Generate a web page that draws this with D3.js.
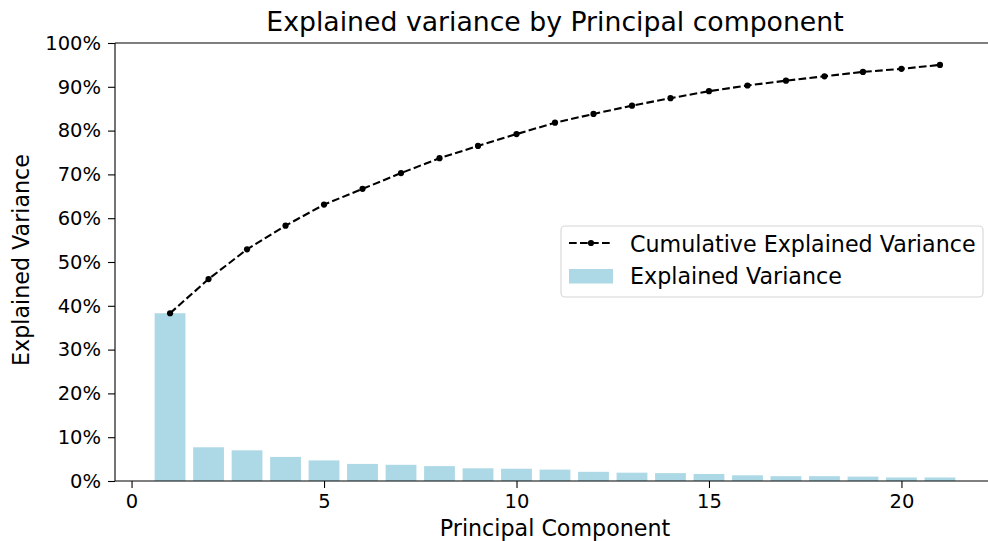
<!DOCTYPE html>
<html>
<head>
<meta charset="utf-8">
<script src="https://cdn.jsdelivr.net/npm/d3@7"></script>
<style>
  html, body { margin: 0; padding: 0; background: #fff; }
  svg { display: block; font-family: "DejaVu Sans", sans-serif; }
</style>
</head>
<body>
<svg id="chart" width="988" height="541"></svg>
<script>
// Principal components and their share of variance
const components = [1, 2, 3, 4, 5, 6, 7, 8, 9, 10, 11, 12, 13, 14, 15, 16, 17, 18, 19, 20, 21];
const explained = [0.383, 0.077, 0.070, 0.055, 0.047, 0.039, 0.037, 0.034, 0.029, 0.028, 0.026,
                   0.021, 0.019, 0.018, 0.016, 0.013, 0.011, 0.011, 0.010, 0.008, 0.008];
const cumulative = [0.383, 0.461, 0.529, 0.583, 0.631, 0.667, 0.703, 0.737, 0.765, 0.792, 0.818,
                    0.838, 0.857, 0.874, 0.890, 0.903, 0.914, 0.924, 0.934, 0.941, 0.950];
const xTicks = [0, 5, 10, 15, 20];
const yTicks = [0, 0.1, 0.2, 0.3, 0.4, 0.5, 0.6, 0.7, 0.8, 0.9, 1.0];

const svg = d3.select("#chart");
const plot = { left: 115, right: 995, top: 43, bottom: 481 };
const tickFs = 19.5;   // tick labels
const labelFs = 22.2;  // axis labels and legend
const titleFs = 26.7;

const x = d3.scaleLinear().domain([-0.43, 22.43]).range([plot.left, plot.right]);
const y = d3.scaleLinear().domain([0, 1]).range([plot.bottom, plot.top]);
const barW = x(0.8) - x(0);

// bars
svg.append("g").selectAll("rect")
  .data(components)
  .join("rect")
  .attr("x", (d) => x(d - 0.4))
  .attr("y", (d, i) => y(explained[i]))
  .attr("width", barW)
  .attr("height", (d, i) => y(0) - y(explained[i]))
  .attr("fill", "#add8e6");

// cumulative line
const line = d3.line().x((d) => x(d[0])).y((d) => y(d[1]));
const pts = components.map((c, i) => [c, cumulative[i]]);
svg.append("path")
  .datum(pts)
  .attr("d", line)
  .attr("fill", "none")
  .attr("stroke", "#000")
  .attr("stroke-width", 2.1)
  .attr("stroke-dasharray", "7.7,3.3");
svg.append("g").selectAll("circle")
  .data(pts)
  .join("circle")
  .attr("cx", (d) => x(d[0]))
  .attr("cy", (d) => y(d[1]))
  .attr("r", 3.1)
  .attr("fill", "#000");

// axes
const xAxis = d3.axisBottom(x).tickValues(xTicks).tickSize(7).tickPadding(6).tickFormat(d3.format("d"));
const gx = svg.append("g").attr("transform", `translate(0,${plot.bottom})`).call(xAxis);
const yAxis = d3.axisLeft(y).tickValues(yTicks).tickSize(7).tickPadding(7).tickFormat(d3.format(".0%"));
const gy = svg.append("g").attr("transform", `translate(${plot.left},0)`).call(yAxis);
[gx, gy].forEach((g) => {
  g.select(".domain").remove();
  g.selectAll(".tick line").attr("stroke", "#000").attr("stroke-width", 1.1);
  g.selectAll(".tick text").attr("fill", "#000").style("font-size", tickFs + "px").style("font-family", "DejaVu Sans");
});

// spines
const spines = svg.append("g").attr("stroke", "#000").attr("stroke-width", 1.1).attr("fill", "none");
spines.append("line").attr("x1", plot.left).attr("x2", plot.right).attr("y1", plot.top).attr("y2", plot.top);
spines.append("line").attr("x1", plot.left).attr("x2", plot.right).attr("y1", plot.bottom).attr("y2", plot.bottom);
spines.append("line").attr("x1", plot.left).attr("x2", plot.left).attr("y1", plot.top).attr("y2", plot.bottom);
spines.append("line").attr("x1", plot.right).attr("x2", plot.right).attr("y1", plot.top).attr("y2", plot.bottom);

// titles
svg.append("text")
  .attr("x", (plot.left + plot.right) / 2).attr("y", 31)
  .attr("text-anchor", "middle")
  .style("font-size", titleFs + "px")
  .text("Explained variance by Principal component");
svg.append("text")
  .attr("x", (plot.left + plot.right) / 2).attr("y", 536)
  .attr("text-anchor", "middle")
  .style("font-size", labelFs + "px")
  .text("Principal Component");
svg.append("text")
  .attr("transform", `translate(29,${(plot.top + plot.bottom) / 2 - 2}) rotate(-90)`)
  .attr("text-anchor", "middle")
  .style("font-size", labelFs + "px")
  .text("Explained Variance");

// legend
const lg = svg.append("g");
lg.append("rect")
  .attr("x", 561).attr("y", 226).attr("width", 422).attr("height", 71)
  .attr("rx", 4).attr("fill", "#fff").attr("fill-opacity", 0.8)
  .attr("stroke", "#d6d6d6").attr("stroke-width", 1.1);
lg.append("line")
  .attr("x1", 569).attr("x2", 613).attr("y1", 243).attr("y2", 243)
  .attr("stroke", "#000").attr("stroke-width", 2.1).attr("stroke-dasharray", "7.7,3.3");
lg.append("circle").attr("cx", 591).attr("cy", 243).attr("r", 3.1).attr("fill", "#000");
lg.append("text").attr("x", 630).attr("y", 252).style("font-size", labelFs + "px").attr("fill", "#000")
  .text("Cumulative Explained Variance");
lg.append("rect").attr("x", 569).attr("y", 269).attr("width", 44).attr("height", 14.5).attr("fill", "#add8e6");
lg.append("text").attr("x", 630).attr("y", 284).style("font-size", labelFs + "px").attr("fill", "#000")
  .text("Explained Variance");
</script>
</body>
</html>
